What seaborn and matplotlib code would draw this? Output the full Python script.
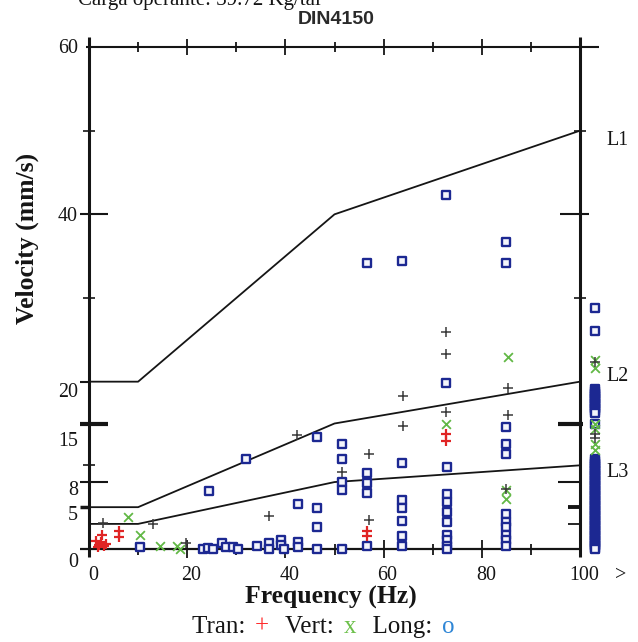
import matplotlib
matplotlib.use("Agg")
import matplotlib.pyplot as plt
import matplotlib.transforms as mtransforms
from matplotlib.offsetbox import TextArea, HPacker, AnchoredOffsetbox
import pandas as pd
import seaborn as sns

# DIN 4150-3 guideline curves: frequency (Hz) vs peak particle velocity (mm/s)
limit_hz = [0, 10, 50, 100]
limit_l1 = [20, 20, 40, 50]
limit_l2 = [5, 5, 15, 20]
limit_l3 = [3, 3, 8, 10]
limit_names = ["L1", "L2", "L3"]

# Axis ticks
x_ticks = [0, 20, 40, 60, 80, 100]
y_ticks = [0, 5, 8, 15, 20, 40, 60]

# Longitudinal readings (Hz, mm/s)
long_hz = [72.8, 85.0, 85.0, 63.7, 56.7, 72.8,
           46.5, 32.0, 51.5, 51.5, 51.5, 51.5, 56.6, 56.6, 56.6, 24.5, 42.6,
           46.5, 46.5,
           63.8, 63.8, 63.8, 63.8, 63.8, 63.8,
           73.0, 73.0, 73.0, 73.0, 73.0, 73.0, 73.0, 73.0, 73.0,
           85.0, 85.0, 85.0, 85.0, 85.0, 85.0, 85.0, 85.0, 85.0,
           10.4, 23.3, 24.3, 25.3, 27.0, 28.0, 29.4, 30.4, 34.2, 36.7, 36.7,
           39.2, 39.2, 39.7, 42.6, 42.6, 46.5, 51.5, 56.6]
long_v = [42.3, 36.7, 34.2, 34.4, 34.2, 19.9,
          13.4, 10.7, 12.5, 10.8, 8.0, 7.0, 9.1, 7.9, 6.7, 6.9, 5.4,
          4.9, 2.6,
          10.3, 5.9, 4.9, 3.3, 1.5, 0.3,
          9.8, 6.6, 5.6, 4.4, 3.2, 1.7, 1.1, 0.3, 0.0,
          14.6, 12.6, 11.4, 4.2, 3.2, 2.6, 1.7, 1.1, 0.3,
          0.2, 0.0, 0.1, 0.0, 0.7, 0.2, 0.2, 0.0, 0.3, 0.7, 0.0,
          1.1, 0.5, 0.0, 0.8, 0.2, 0.0, 0.0, 0.3]

# Vertical readings
vert_hz = [8.0, 10.4, 14.5, 18.0, 18.6, 72.8, 85.3, 85.0, 85.0]
vert_v = [3.8, 1.7, 0.3, 0.3, 0.0, 15.0, 23.0, 7.0, 6.0]

# Transverse readings
tran_hz = [72.8, 72.8, 64.0, 85.3, 72.8, 64.0, 85.3, 42.3, 51.5, 57.1,
           36.7, 57.1, 2.8, 13.1, 19.8, 85.0]
tran_v = [25.9, 23.3, 18.3, 19.2, 16.4, 14.7, 16.0, 13.6, 9.2, 11.3,
          3.9, 3.5, 3.1, 2.95, 0.7, 7.2]
tran_peak_hz = [72.8, 72.8, 56.6, 56.6, 6.2, 6.2, 2.6, 1.5, 2.0, 2.5, 3.0, 1.8, 3.4]
tran_peak_v = [13.8, 12.9, 2.1, 1.5, 2.1, 1.4, 1.7, 0.9, 0.5, 0.8, 0.3, 0.2, 0.6]

# Readings above 100 Hz, shown in the ">" column
over_long_v = [28.8, 26.0,
               19.1, 18.9, 18.7, 18.5, 18.3, 18.1, 17.9, 17.7, 17.5, 17.3,
               17.1, 16.9, 16.7, 16.5, 16.3, 14.9,
               10.7, 10.5, 10.3, 10.1, 9.9, 9.7, 9.5, 9.3, 9.1, 8.9, 8.7,
               8.5, 8.3, 8.1, 7.9, 7.7, 7.5, 7.3, 7.1, 6.9, 6.7, 6.5, 6.3,
               6.1, 5.9, 5.7, 5.5, 5.3, 5.1, 4.9, 4.7, 4.5, 4.3, 4.1, 3.9,
               3.7, 3.5, 3.3, 3.1, 2.9, 2.7, 2.5, 2.3, 2.1, 1.9, 1.7, 1.5,
               1.3, 1.1, 0.9, 0.7, 0.5, 0.3, 0.1, 0.0]
over_vert_v = [22.6, 21.6, 15.0, 14.4, 12.6, 11.8]
over_tran_v = [22.3, 13.8, 13.3]
OVER_HZ = 103

sns.set_theme(style="white")
plt.rcParams["font.family"] = ["Liberation Serif", "DejaVu Serif"]

W, H = 638, 642
X0, X1, Y0, Y1 = 89, 580, 549, 47
AW, AH = X1 - X0, Y0 - Y1
INK = "#151515"

fig = plt.figure(figsize=(W / 100, H / 100), dpi=100)
ax = fig.add_axes([X0 / W, (H - Y0) / H, AW / W, AH / H])
ax.set_xlim(0, 100)
ax.set_ylim(0, 60)
for sp in ax.spines.values():
    sp.set_visible(False)
ax.patch.set_alpha(0)

# guideline curves
for name, vals in zip(limit_names, [limit_l1, limit_l2, limit_l3]):
    df = pd.DataFrame({"hz": limit_hz, "v": vals})
    sns.lineplot(data=df, x="hz", y="v", ax=ax, color=INK, lw=1.3,
                 estimator=None, sort=False, legend=False)

# measured points
long_df = pd.DataFrame({"hz": long_hz + [OVER_HZ] * len(over_long_v),
                        "v": long_v + over_long_v})
vert_df = pd.DataFrame({"hz": vert_hz + [OVER_HZ] * len(over_vert_v),
                        "v": vert_v + over_vert_v})
tran_df = pd.DataFrame({"hz": tran_hz + [OVER_HZ] * len(over_tran_v),
                        "v": tran_v + over_tran_v})
peak_df = pd.DataFrame({"hz": tran_peak_hz, "v": tran_peak_v})

sns.scatterplot(data=long_df, x="hz", y="v", ax=ax, marker="s", s=26,
                facecolor="#f4f5fb", edgecolor="#1c2892", linewidth=1.7,
                clip_on=False, legend=False, zorder=3)
sns.scatterplot(data=vert_df, x="hz", y="v", ax=ax, marker="x", s=40,
                color="#62b846", linewidth=1.3, clip_on=False, legend=False, zorder=4)
sns.scatterplot(data=tran_df, x="hz", y="v", ax=ax, marker="+", s=55,
                color="#3a3a3a", linewidth=1.1, clip_on=False, legend=False, zorder=5)
sns.scatterplot(data=peak_df, x="hz", y="v", ax=ax, marker="+", s=55,
                color="#e02424", linewidth=1.6, clip_on=False, legend=False, zorder=5)

# frame
ax.plot([0, 0], [-8 / AH, 1 + 10 / AH], transform=ax.transAxes, color=INK,
        lw=2.2, clip_on=False, solid_capstyle="butt")
ax.plot([1, 1], [-8 / AH, 1 + 10 / AH], transform=ax.transAxes, color=INK,
        lw=2.2, clip_on=False, solid_capstyle="butt")
ax.plot([-3 / AW, 1 + 19 / AW], [1, 1], transform=ax.transAxes, color=INK,
        lw=1.5, clip_on=False, solid_capstyle="butt")
ax.plot([-9 / AW, 1], [0, 0], transform=ax.transAxes, color=INK,
        lw=1.6, clip_on=False, solid_capstyle="butt")

yb = mtransforms.blended_transform_factory(ax.transAxes, ax.transData)
xb = mtransforms.blended_transform_factory(ax.transData, ax.transAxes)


def ytick(v, a, b, side, lw):
    # a, b: pixel offsets measured inward from the spine
    xs = [a / AW, b / AW] if side == "left" else [1 - a / AW, 1 - b / AW]
    ax.plot(xs, [v, v], transform=yb, color=INK, lw=lw, clip_on=False,
            solid_capstyle="butt")


def xtick(f, half, where, lw=1.3):
    base = 0 if where == "bottom" else 1
    ax.plot([f, f], [base - half / AH, base + half / AH], transform=xb,
            color=INK, lw=lw, clip_on=False, solid_capstyle="butt")


for v in (50, 30, 10):
    ytick(v, -6, 6, "left", 1.2)
for v, lw in ((40, 1.5), (15, 3.0), (8, 1.5)):
    ytick(v, -9, 19, "left", lw)
for v, lw in ((20, 1.5), (5, 2.5)):
    ytick(v, -9, 0, "left", lw)
for v in (50, 30):
    ytick(v, -6, 6, "right", 1.2)
ytick(40, -9, 20, "right", 1.5)
ytick(15, -3, 22, "right", 3.0)
ytick(8, 0, 22, "right", 1.5)
ytick(5, 0, 12, "right", 2.8)
ytick(3, 0, 12, "right", 1.3)

for f in range(10, 100, 10):
    major = f % 20 == 0
    xtick(f, 9 if major else 5.5, "bottom")
for f in range(10, 100, 10):
    major = f % 20 == 0
    xtick(f, 8 if major else 5, "top")

# tick labels
ax.set_xticks(x_ticks)
ax.set_xticklabels([str(t) for t in x_ticks])
ax.set_yticks(y_ticks)
ax.set_yticklabels([str(t) for t in y_ticks])
ax.tick_params(axis="both", length=0, labelsize=14.4, colors=INK)
ax.tick_params(axis="x", pad=12)
ax.tick_params(axis="y", pad=8)
y_shift = {60: 1, 40: 0, 20: -8, 15: -16, 8: -6, 5: -6, 0: -11}
for t, lab in zip(y_ticks, ax.get_yticklabels()):
    off = mtransforms.ScaledTranslation(0, y_shift[t] / 100, fig.dpi_scale_trans)
    lab.set_transform(lab.get_transform() + off)
for lab in ax.get_xticklabels():
    off = mtransforms.ScaledTranslation(4 / 100, 0, fig.dpi_scale_trans)
    lab.set_transform(lab.get_transform() + off)
ax.text(OVER_HZ + 5.3, -(575 - Y0) / AH, ">", transform=xb, ha="center",
        va="center", fontsize=14.4, color=INK)

# guideline labels at the right edge
for name, vals, dy in zip(limit_names, [limit_l1, limit_l2, limit_l3], (-10, 5, -7)):
    ax.annotate(name, xy=(limit_hz[-1], vals[-1]), xytext=(19, dy * 0.72),
                textcoords="offset points", ha="left", va="center",
                fontsize=14.4, color=INK, annotation_clip=False)

ax.set_xlabel("Frequency (Hz)", fontsize=18.5, fontweight="bold", color=INK)
ax.xaxis.set_label_coords((331 - X0) / AW, -(597 - Y0) / AH)
ax.xaxis.label.set_va("center")
ax.set_ylabel("Velocity (mm/s)", fontsize=18.5, fontweight="bold", color=INK)
ax.yaxis.set_label_coords((27 - X0) / AW, (Y0 - 238) / AH)
ax.yaxis.label.set_va("center")

fig.text(336 / W, 1 - 20 / H, "DIN4150", ha="center", va="center",
         fontsize=14, fontweight="bold", family=["Liberation Sans", "DejaVu Sans"],
         color="#2a2a2a")
fig.text(78 / W, 1 - 5 / H, "Carga operante: 39.72 Kg/tal", ha="left",
         va="baseline", fontsize=15, color=INK)

# symbol key
parts = [("Tran: ", INK), ("+", "#ff2a2a"), ("  Vert: ", INK), ("x", "#6cc04a"),
         ("  Long: ", INK), ("o", "#2f86d6")]
boxes = [TextArea(t, textprops=dict(color=c, fontsize=18,
                                    family=["Liberation Serif", "DejaVu Serif"]))
         for t, c in parts]
key = HPacker(children=boxes, align="baseline", pad=0, sep=2.6)
anch = AnchoredOffsetbox(loc="center", child=key, frameon=False,
                         bbox_to_anchor=(323 / W, 15 / H),
                         bbox_transform=fig.transFigure, borderpad=0, pad=0)
fig.add_artist(anch)

fig.savefig("out.png", dpi=100)
